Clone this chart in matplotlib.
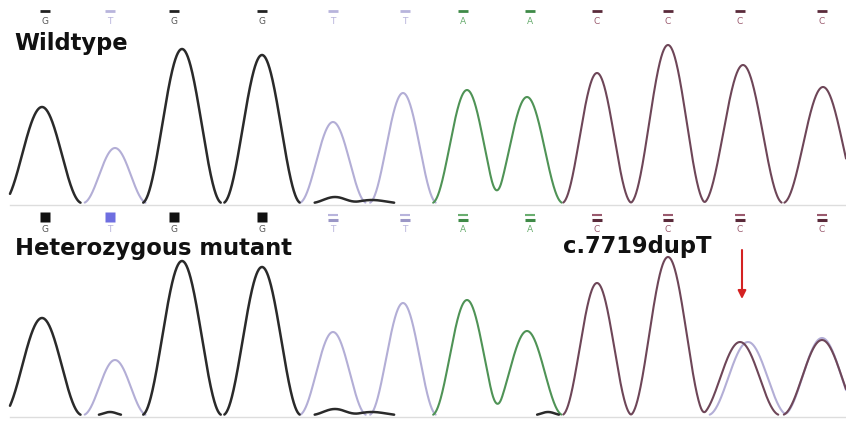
import numpy as np
import matplotlib
matplotlib.use("Agg")
import matplotlib.pyplot as plt

# ---- data (pixel-space) ----
bases = list("GTGGTTAACCCC")
label_x = [45, 110, 174, 262, 333, 405, 463, 530, 597, 668, 740, 822]

# wildtype trace peaks
wt_pos = [42, 115, 182, 262, 333, 403, 467, 527, 597, 668, 743, 823]
wt_height = [96, 55, 154, 148, 81, 110, 113, 106, 130, 158, 138, 116]
peak_halfwidth = [40, 32, 40, 39, 34, 34, 35, 36, 35, 38, 40, 40]

# heterozygous trace peaks
het_pos = [42, 115, 182, 262, 333, 403, 467, 527, 597, 668, 740, 822]
het_height = [97, 55, 154, 148, 83, 112, 115, 84, 132, 158, 73, 75]
# mutant allele (duplicated T) shifted in under the C peaks
het_extra_base = ["T", "T"]
het_extra_pos = [748, 822]
het_extra_height = [73, 77]
het_extra_hw = [40, 39]

# small background bumps on the G channel
wt_noise_pos = [335, 372]
wt_noise_height = [6, 3]
wt_noise_hw = [24, 28]
het_noise_pos = [110, 335, 372, 548]
het_noise_height = [3, 6, 3, 3]
het_noise_hw = [14, 24, 28, 14]

colors = {"G": "#2a2a2a", "T": "#b3aed6", "A": "#4f9356", "C": "#6e4658"}
label_colors = {"G": "#555555", "T": "#b8b4dc", "A": "#6aae70", "C": "#9a5a6e"}
bar_colors = {"G": "#222222", "T": "#9b97c6", "A": "#3f8a47", "C": "#5a2a3a"}
het_marker_colors = {"G": "#111111", "T": "#6e6ee0"}

WT_BASE = 203
HET_BASE = 415


def kernel(x, x0, h, w):
    d = np.abs(x - x0)
    return np.where(d < w, h * np.cos(np.pi * d / (2 * w)) ** 2, 0.0)


def channel_traces(x, pos, height, hw, extra=None, noise=None):
    tr = {b: np.zeros_like(x) for b in "GTAC"}
    for b, p, h, w in zip(bases, pos, height, hw):
        tr[b] += kernel(x, p, h, w)
    if extra is not None:
        for b, p, h, w in zip(*extra):
            tr[b] += kernel(x, p, h, w)
    if noise is not None:
        for p, h, w in zip(*noise):
            tr["G"] += kernel(x, p, h, w)
    return tr


fig = plt.figure(figsize=(8.46, 4.21), dpi=100)
ax = fig.add_axes([0, 0, 1, 1])
ax.set_xlim(0, 846)
ax.set_ylim(421, 0)
ax.axis("off")

x = np.linspace(10, 846, 3000)

wt = channel_traces(x, wt_pos, wt_height, peak_halfwidth,
                    noise=(wt_noise_pos, wt_noise_height, wt_noise_hw))
het = channel_traces(x, het_pos, het_height, peak_halfwidth,
                     extra=(het_extra_base, het_extra_pos, het_extra_height, het_extra_hw),
                     noise=(het_noise_pos, het_noise_height, het_noise_hw))

for base_y, tr in ((WT_BASE, wt), (HET_BASE, het)):
    ax.plot([10, 846], [base_y + 2, base_y + 2], color="#dddddd", lw=1.0, zorder=1)
    for b in "TACG":
        y = np.where(tr[b] > 0.3, base_y - tr[b], np.nan)
        ax.plot(x, y, color=colors[b], lw=1.8 if b == "G" else 1.5,
                solid_capstyle="round", zorder=2)

# base calls, wildtype
for bx, b in zip(label_x, bases):
    ax.plot(bx, 11, marker="_", ms=7, mew=2, color=bar_colors[b] if b != "T" else label_colors[b])
    ax.text(bx, 21, b, fontsize=6.5, color=label_colors[b], ha="center", va="center")

# base calls, heterozygous
for i, (bx, b) in enumerate(zip(label_x, bases)):
    if i < 4:
        ax.plot(bx, 217, marker="s", ms=7, color=het_marker_colors[b], mec="none")
    else:
        ax.plot(bx, 215, marker="_", ms=7, mew=1.5, color=label_colors[b])
        ax.plot(bx, 220, marker="_", ms=7, mew=2.2, color=bar_colors[b])
    ax.text(bx, 229, b, fontsize=6.5, color=label_colors[b], ha="center", va="center")

title_kw = dict(fontsize=16.3, fontweight="bold", family="DejaVu Sans",
                color="#111111", ha="left", va="baseline")
ax.text(14, 50, "Wildtype", **title_kw)
ax.text(15, 255, "Heterozygous mutant", **title_kw)
ax.text(563, 253, "c.7719dupT", **title_kw)

ax.annotate("", xy=(742, 299), xytext=(742, 250),
            arrowprops=dict(arrowstyle="-|>", color="#d42222", lw=1.5,
                            mutation_scale=12, shrinkA=0, shrinkB=0))

fig.savefig("out.png", dpi=100)
